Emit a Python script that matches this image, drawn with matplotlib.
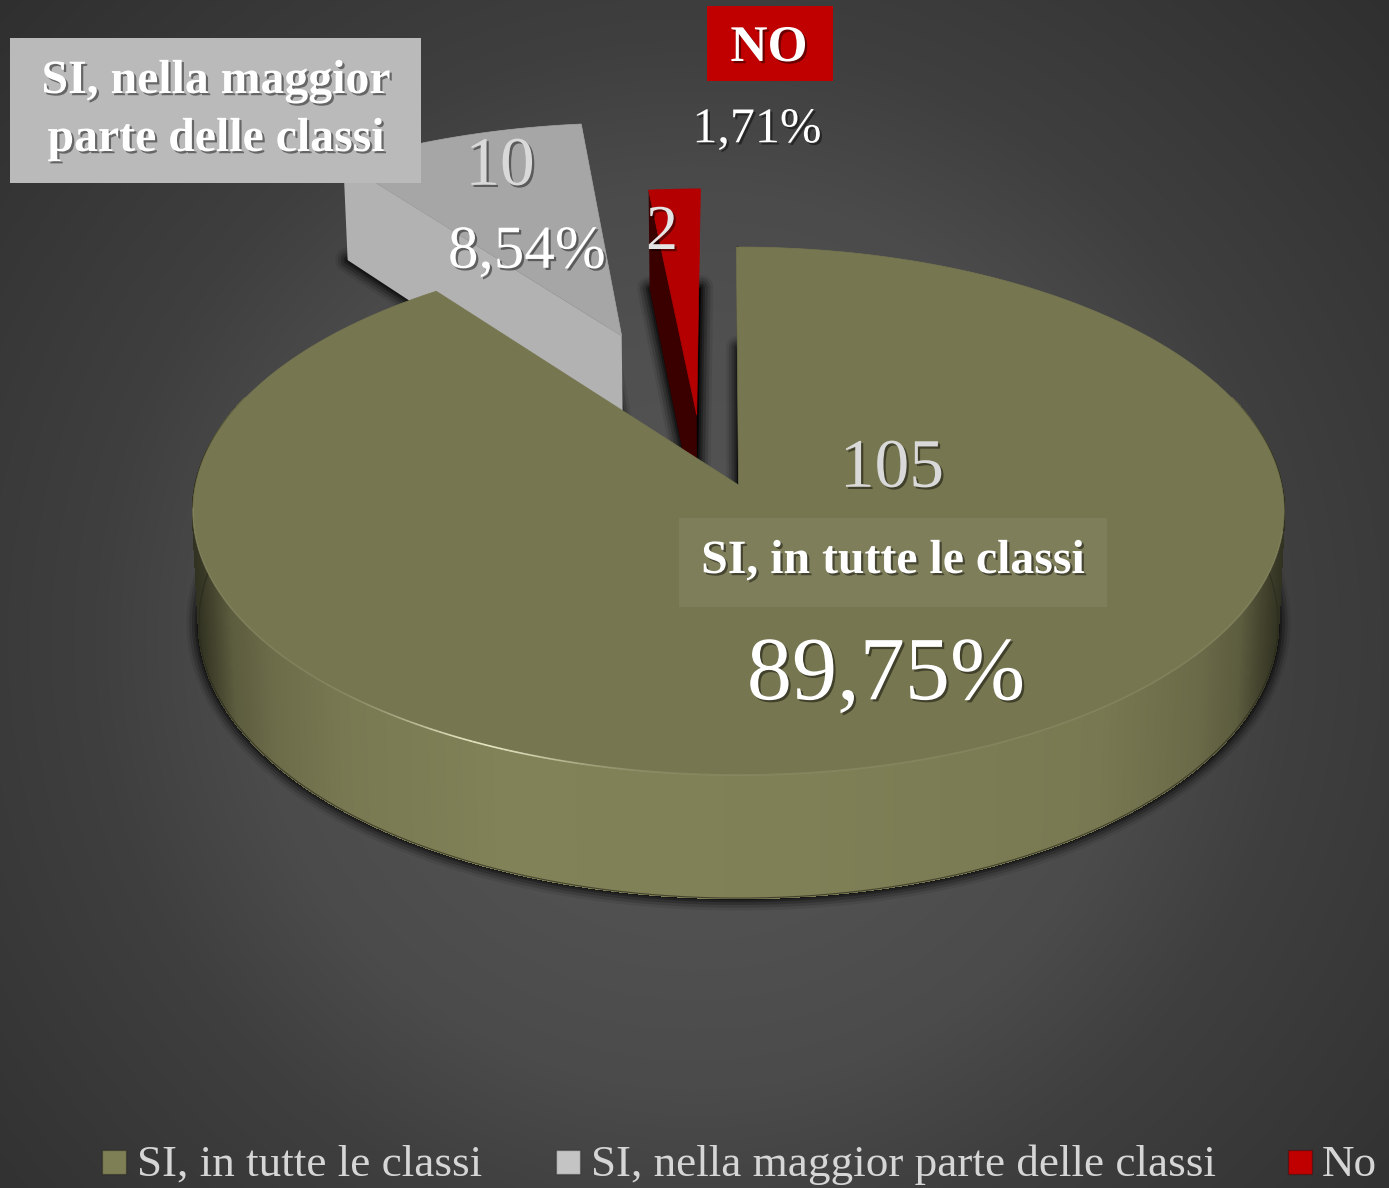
import numpy as np
import matplotlib
matplotlib.use("Agg")
import matplotlib.pyplot as plt
import matplotlib.patheffects as pe
from matplotlib.collections import PolyCollection, LineCollection
from matplotlib.patches import Rectangle, Polygon

# ---- data ----
categories = ["SI, in tutte le classi", "SI, nella maggior parte delle classi", "No"]
counts = [105, 10, 2]
percents = [89.75, 8.54, 1.71]
percent_labels = ["89,75%", "8,54%", "1,71%"]
box_labels = ["SI, in tutte le classi", "SI, nella maggior\nparte delle classi", "NO"]

# ---- style ----
W, H = 1389, 1188
FONT = "Liberation Serif"
top_cols = ["#767650", "#a6a6a6", "#b40000"]
side_cols = ["#82825a", "#b2b2b2", "#3a0000"]
legend_cols = ["#7f7f56", "#c4c4c4", "#c00000"]
box_cols = ["#7e7e5b", "#bababa", "#c00000"]
explode = [(0.0, 0.0), (-0.228, 0.604), (-0.079, 0.275)]

# perspective of the pie
CX, CY, A, B, K, T, S = 738.5, 485, 543, 261.4, 0.0985, 111, 0.989


def project(u, v):
    w = 1 + K * v
    return CX + A * u / w, CY - B * v / w


def project_low(u, v):
    x, y = project(u, v)
    return CX + (x - CX) * S, y + T / (1 + K * v)


def arc(a0, a1, off, n=200):
    th = np.radians(np.linspace(a0, a1, n))
    return np.sin(th) + off[0], np.cos(th) + off[1]


def wedge(a0, a1, off, low=False):
    u, v = arc(a0, a1, off)
    u = np.r_[off[0], u]
    v = np.r_[off[1], v]
    x, y = (project_low if low else project)(u, v)
    return np.c_[x, y]


fig = plt.figure(figsize=(W / 100, H / 100), dpi=100)
ax = fig.add_axes([0, 0, 1, 1])
ax.set_xlim(0, W)
ax.set_ylim(H, 0)
ax.axis("off")

# background: radial gradient
yy, xx = np.mgrid[0:H, 0:W]
d = np.hypot(xx - 695, yy - 640)
val = np.interp(d, [0, 300, 450, 600, 950], [0x55, 0x50, 0x4b, 0x3f, 0x2f]) / 255
ax.imshow(np.dstack([val] * 3), extent=(0, W, H, 0), aspect="auto", zorder=0)


def shadow(poly, z):
    for lw, a in [(18, .08), (14, .14), (10, .20), (6, .28), (3, .35)]:
        ax.add_patch(Polygon(poly, closed=True, fc="none", ec="black", lw=lw,
                             alpha=a, joinstyle="round", zorder=z))
    ax.add_patch(Polygon(poly, closed=True, fc="black", ec="none", alpha=.85, zorder=z))


# angles from the data
spans = np.array(percents) / 100 * 360
starts = np.r_[0, np.cumsum(spans)[:-1]]
ends = starts + spans

# gray and red exploded slices
for i, z in [(1, 2), (2, 4)]:
    off = explode[i]
    shadow(wedge(starts[i], ends[i], off, low=True), z)
    apex_u, apex_v = off
    th = np.radians(starts[i])
    ou, ov = np.sin(th) + off[0], np.cos(th) + off[1]
    p = [project(ou, ov), project(apex_u, apex_v), project_low(apex_u, apex_v), project_low(ou, ov)]
    ax.add_patch(Polygon(p, closed=True, fc=side_cols[i], ec="none", zorder=z + .5))
    ax.add_patch(Polygon(wedge(starts[i], ends[i], off), closed=True, fc=top_cols[i],
                         ec=top_cols[i], lw=.5, zorder=z + .6))

# main slice
shadow(wedge(starts[0], ends[0], explode[0], low=True), 6)
th = np.linspace(70, 290, 700)
u, v = np.sin(np.radians(th)), np.cos(np.radians(th))
xt, yt = project(u, v)
xb, yb = project_low(u, v)
quads = []
cols = []
stops = [193, 205, 230, 270, 340, 500, 800, 1100, 1200, 1240, 1268, 1285]
r_val = [50, 62, 92, 108, 120, 130, 128, 120, 106, 92, 62, 48]
for j in range(len(th) - 1):
    quads.append([(xt[j], yt[j]), (xt[j + 1], yt[j + 1]), (xb[j + 1], yb[j + 1]), (xb[j], yb[j])])
    r = np.interp(.5 * (xt[j] + xt[j + 1]), stops, r_val) / 255
    cols.append((r, r, r * 0.68))
ax.add_collection(PolyCollection(quads, facecolors=cols, edgecolors=cols, linewidths=1.0,
                                 antialiaseds=False, zorder=7))
ax.plot(xb, yb, color="#2a2a1c", lw=.8, alpha=.7, zorder=7.2)
ax.add_patch(Polygon(wedge(starts[0] - .25, ends[0], explode[0]), closed=True, fc=top_cols[0],
                     ec=top_cols[0], lw=.5, zorder=8))
# dark sliver of the cut face
ax.plot(*zip(project(0, 0), project(-.002, 1)), color="black", lw=1.5, alpha=.55, zorder=7.5)

# rim highlight on the front edge
th = np.linspace(100, 265, 300)
u, v = np.sin(np.radians(th)), np.cos(np.radians(th))
xt, yt = project(u, v)
segs = np.stack([np.c_[xt[:-1], yt[:-1]], np.c_[xt[1:], yt[1:]]], axis=1)
alpha = .10 + .75 * np.exp(-((th[:-1] - 205) / 10) ** 2)
ax.add_collection(LineCollection(segs, colors=[(.98, .98, .85, a) for a in alpha], linewidths=1.2, zorder=9))

# ---- texts ----
shadow_fx = [pe.withSimplePatchShadow(offset=(1.6, -1.6), shadow_rgbFace="black", alpha=.45)]


def txt(x, y, s, size, color="white", weight="normal", z=12, **kw):
    t = ax.text(x, y + 5, s, fontsize=size, color=color, fontweight=weight, family=FONT,
                ha="center", va="center", zorder=z, **kw)
    t.set_path_effects(shadow_fx)
    return t


# count labels
txt(892, 465, str(counts[0]), 50, color="#d9d9d9")
txt(500, 163, str(counts[1]), 50, color="#d9d9d9")
txt(662, 229, str(counts[2]), 46, color="#e4e4e4")

# percent labels
txt(886, 672, percent_labels[0], 65)
txt(527, 248, percent_labels[1], 44)
txt(757, 125, percent_labels[2], 36)

# category boxes
for (x0, y0, x1, y1), col in zip([(679, 518, 1107, 607), (10, 38, 421, 183), (707, 6, 833, 81)], box_cols):
    ax.add_patch(Rectangle((x0, y0), x1 - x0, y1 - y0, fc=col, ec="none", zorder=11))
txt(893, 556, box_labels[0], 34.4, weight="bold")
l1, l2 = box_labels[1].split("\n")
txt(216, 76, l1, 34.4, weight="bold")
txt(216, 134, l2, 34.4, weight="bold")
txt(769, 44, box_labels[2], 37, weight="bold")

# legend
for xs, col, tx, name in zip([102, 556, 1288], legend_cols, [137, 591, 1322], categories):
    ax.add_patch(Rectangle((xs, 1150), 24, 24, fc=col, ec=(0, 0, 0, .25), lw=1, zorder=11))
    ax.text(tx, 1176, name, fontsize=32.5, color="#d6d6d6", family=FONT, ha="left",
            va="baseline", zorder=11)

fig.savefig("out.png", dpi=100)
